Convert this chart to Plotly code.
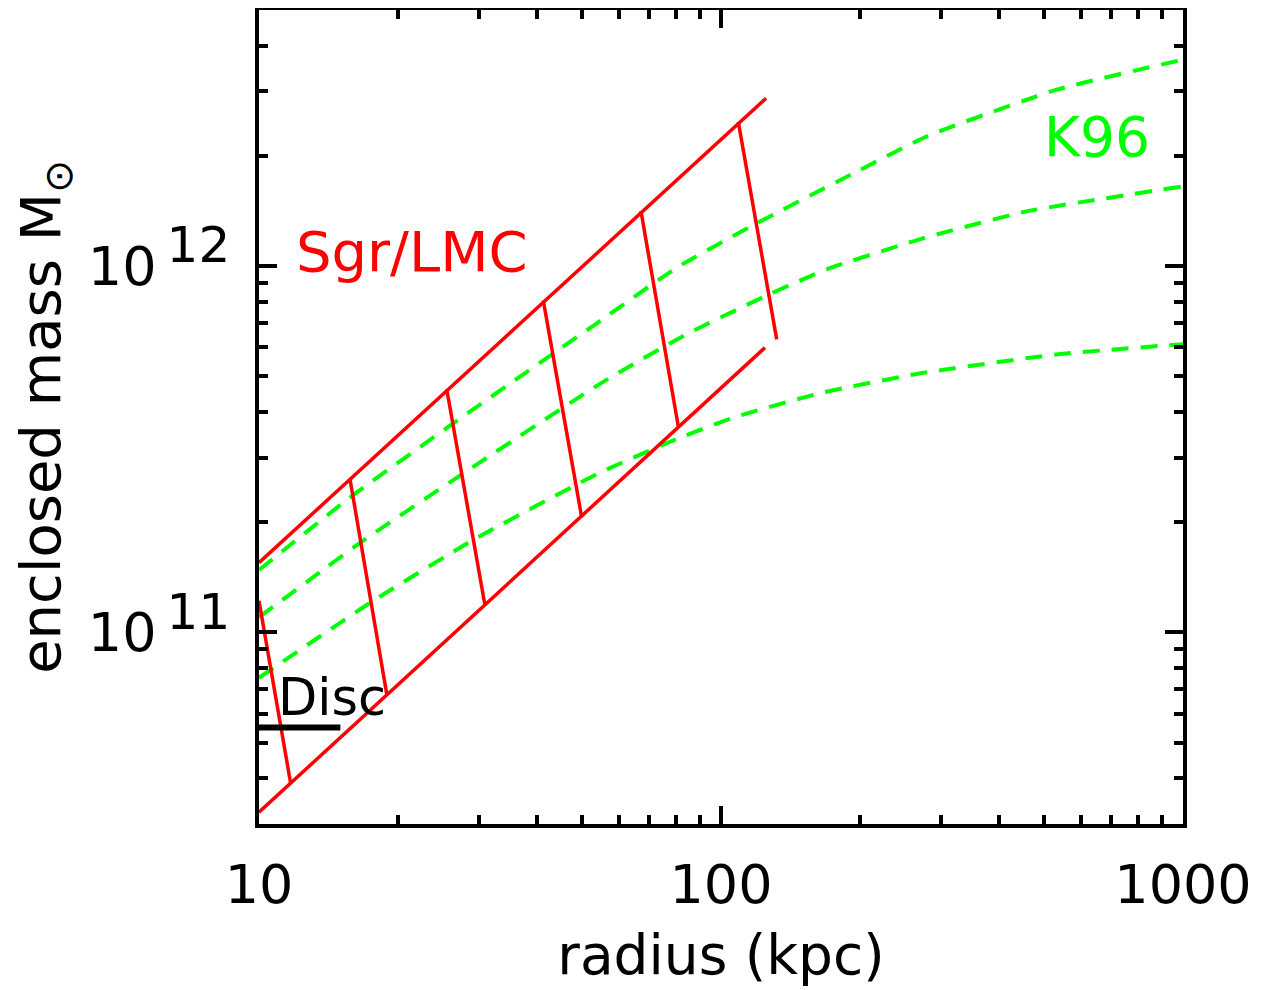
import math
import plotly.graph_objects as go

# ---------------- data ----------------
# K96 model curves (radius kpc, enclosed mass Msun)
k96_high_r = [10, 15.7, 26.8, 54.7, 80.2, 119.7, 200, 279, 533, 1000]
k96_high_m = [1.48e11, 2.33e11, 3.78e11, 7.08e11, 9.9e11, 1.31e12, 1.83e12, 2.26e12, 3.03e12, 3.66e12]
k96_mid_r = [10, 16.8, 27.6, 54.7, 84.3, 127.6, 169.3, 273.5, 458.7, 1000]
k96_mid_m = [1.10e11, 1.78e11, 2.71e11, 4.77e11, 6.52e11, 8.39e11, 9.8e11, 1.19e12, 1.41e12, 1.65e12]
k96_low_r = [10, 17.4, 28.9, 54.7, 81.5, 107.2, 165.2, 273.5, 533, 1000]
k96_low_m = [7.52e10, 1.205e11, 1.78e11, 2.73e11, 3.40e11, 3.87e11, 4.51e11, 5.11e11, 5.74e11, 6.12e11]

# Sgr/LMC band edges
sgr_upper_r = [10, 125.2]
sgr_upper_m = [1.55e11, 2.87e12]
sgr_lower_r = [10, 124.5]
sgr_lower_m = [3.23e10, 5.99e11]

# Sgr/LMC cross bars (top point -> bottom point)
bar_top_r = [10, 15.74, 25.49, 41.24, 67.1, 109.0]
bar_top_m = [1.22e11, 2.62e11, 4.61e11, 8.06e11, 1.413e12, 2.475e12]
bar_bot_r = [11.71, 18.90, 30.85, 49.95, 80.8, 132.0]
bar_bot_m = [3.87e10, 6.79e10, 1.183e11, 2.06e11, 3.66e11, 6.31e11]

# Disc mass
disc_r = [10, 15]
disc_m = [5.5e10, 5.5e10]

# axis ticks
x_ticks = [10, 100, 1000]
x_ticklabels = ["10", "100", "1000"]
x_minor = [20, 30, 40, 50, 60, 70, 80, 90, 200, 300, 400, 500, 600, 700, 800, 900]
y_ticks = [1e11, 1e12]
y_ticklabels = ["10<sup><span style='font-size:50px'>\u200911</span></sup>",
                "10<sup><span style='font-size:50px'>\u200912</span></sup>"]
y_minor = [4e10, 5e10, 6e10, 7e10, 8e10, 9e10,
           2e11, 3e11, 4e11, 5e11, 6e11, 7e11, 8e11, 9e11,
           2e12, 3e12, 4e12]

RED = "#ff0000"
GREEN = "#00ff00"
FONT = "DejaVu Sans"

fig = go.Figure()

for r, m in [(k96_high_r, k96_high_m), (k96_mid_r, k96_mid_m), (k96_low_r, k96_low_m)]:
    fig.add_trace(go.Scatter(x=r, y=m, mode="lines",
                             line=dict(color=GREEN, width=4, dash="17px,12px", shape="spline", smoothing=0.5),
                             hoverinfo="skip"))

for r, m in [(sgr_upper_r, sgr_upper_m), (sgr_lower_r, sgr_lower_m)]:
    fig.add_trace(go.Scatter(x=r, y=m, mode="lines", line=dict(color=RED, width=3.5), hoverinfo="skip"))

for rt, mt, rb, mb in zip(bar_top_r, bar_top_m, bar_bot_r, bar_bot_m):
    fig.add_trace(go.Scatter(x=[rt, rb], y=[mt, mb], mode="lines",
                             line=dict(color=RED, width=3.5), hoverinfo="skip"))

fig.add_trace(go.Scatter(x=disc_r, y=disc_m, mode="lines", line=dict(color="black", width=6), hoverinfo="skip"))

axis_common = dict(
    type="log", showline=True, linewidth=4, linecolor="black", mirror="allticks",
    ticks="inside", ticklen=18, tickwidth=3.5, tickcolor="black",
    showgrid=False, zeroline=False,
    tickfont=dict(family=FONT, size=54, color="black"),
)

# page body has an 8px margin, so the figure is shifted by 8px; compensate
fig.update_layout(
    width=1259, height=982,
    margin=dict(l=251, r=84, t=2, b=166),
    paper_bgcolor="white", plot_bgcolor="white",
    showlegend=False,
    font=dict(family=FONT, color="black", size=54),
    xaxis=dict(**axis_common, range=[1, 3], tickmode="array", tickvals=x_ticks, ticktext=x_ticklabels,
               ticklabelstandoff=10,
               minor=dict(tickmode="array", tickvals=x_minor, ticks="inside", ticklen=9, tickwidth=3.5,
                          tickcolor="black", showgrid=False),
               title=dict(text="radius (kpc)", font=dict(family=FONT, size=55, color="black"), standoff=22),
               automargin=False),
    yaxis=dict(**axis_common, range=[math.log10(3e10), math.log10(5e12)], tickmode="array",
               tickvals=y_ticks, ticktext=y_ticklabels, ticklabelstandoff=14,
               minor=dict(tickmode="array", tickvals=y_minor, ticks="inside", ticklen=9, tickwidth=3.5,
                          tickcolor="black", showgrid=False),
               title=dict(text="enclosed mass M<sub>⊙</sub>", font=dict(family=FONT, size=56, color="black"),
                          standoff=50),
               automargin=False),
    annotations=[
        dict(text="Sgr/LMC", xref="paper", yref="paper", x=(412 - 259) / 924, y=(824 - 252) / 814,
             showarrow=False, font=dict(family=FONT, size=56, color=RED), xanchor="center", yanchor="middle"),
        dict(text="K96", xref="paper", yref="paper", x=(1097 - 259) / 924, y=(824 - 137) / 814,
             showarrow=False, font=dict(family=FONT, size=55, color=GREEN), xanchor="center", yanchor="middle"),
        dict(text="Disc", xref="paper", yref="paper", x=(332 - 259) / 924, y=(824 - 697) / 814,
             showarrow=False, font=dict(family=FONT, size=51, color="black"), xanchor="center", yanchor="middle"),
    ],
)

fig.write_html("out.html")
